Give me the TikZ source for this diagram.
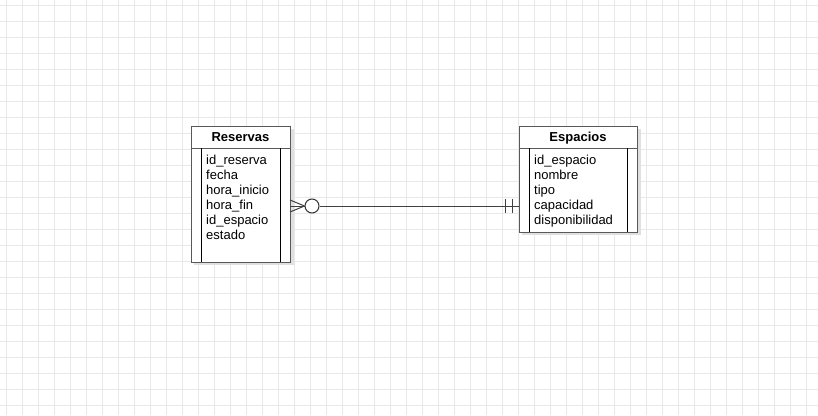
\documentclass[tikz,border=0pt]{standalone}
\usepackage{fontspec}
\setmainfont{Liberation Sans}

\tikzset{
	gridline/.style={draw=gray!17, line width=1},
	tablebox/.style={draw=black!65, line width=1, fill=white, inner sep=0, outer sep=0},
	fieldtext/.style={font=\fontsize{13}{15}\selectfont, anchor=base west, inner sep=0, yshift=-5.5},
	headtext/.style={font=\bfseries\fontsize{13}{15}\selectfont, anchor=base, inner sep=0, yshift=-5},
	relline/.style={draw=black!75, line width=1},
}

\begin{document}
\begin{tikzpicture}[x=1pt,y=-1pt]
		\useasboundingbox (0,0) rectangle (818,415);
		\fill[white] (0,0) rectangle (818,415);
		% background grid
		\foreach \gx in {0,...,50} \draw[gridline] (6.5+16*\gx,0)--(6.5+16*\gx,415);
		\foreach \gy in {0,...,25} \draw[gridline] (0,5.5+16*\gy)--(818,5.5+16*\gy);
		
		% Reservas
		\fill[black!12] (194,129) rectangle (294,265);
		\node[tablebox, minimum width=99, minimum height=136] (res) at (240.5,194) {};
		\draw[black!65, line width=1] (191,148)--(290,148);
		\draw[black, line width=1] (201,148)--(201,262);
		\draw[black, line width=1] (280,148)--(280,262);
		\node[headtext] (resh) at (240.5,136.5) {Reservas};
		\node[fieldtext] (r1) at (206,159) {id\_reserva};
		\node[fieldtext] (r2) at (206,174) {fecha};
		\node[fieldtext] (r3) at (206,189) {hora\_inicio};
		\node[fieldtext] (r4) at (206,204) {hora\_fin};
		\node[fieldtext] (r5) at (206,219) {id\_espacio};
		\node[fieldtext] (r6) at (206,234) {estado};
		
		% Espacios
		\fill[black!12] (522,129) rectangle (641,235);
		\node[tablebox, minimum width=118, minimum height=106] (esp) at (578,179) {};
		\draw[black!65, line width=1] (519,148)--(637,148);
		\draw[black, line width=1] (529,148)--(529,232);
		\draw[black, line width=1] (627,148)--(627,232);
		\node[headtext] (esph) at (578,136.5) {Espacios};
		\node[fieldtext] (e1) at (534,159) {id\_espacio};
		\node[fieldtext] (e2) at (534,174) {nombre};
		\node[fieldtext] (e3) at (534,189) {tipo};
		\node[fieldtext] (e4) at (534,204) {capacidad};
		\node[fieldtext] (e5) at (534,219) {disponibilidad};
		
		% relation: many (optional) to one (mandatory)
		\coordinate (rend) at (res.east |- 0,206);
		\coordinate (eend) at (esp.west |- 0,206);
		\node[circle, draw=black!80, line width=1, fill=white, minimum size=14, inner sep=0] (opt) at (312,206) {};
		\draw[relline] (rend)--(opt.west);
		\draw[relline] ([yshift=-6]rend)--(opt.west);
		\draw[relline] ([yshift=6]rend)--(opt.west);
		\draw[relline] (opt.east)--(eend);
		\draw[relline] (505,199)--(505,213);
		\draw[relline] (512,199)--(512,213);
	\end{tikzpicture}
\end{document}
